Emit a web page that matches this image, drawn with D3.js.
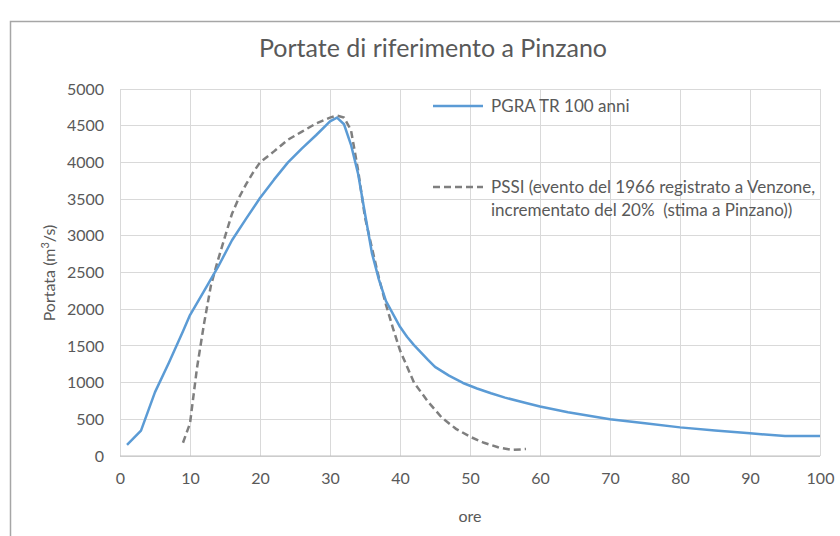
<!DOCTYPE html>
<html lang="it">
<head>
<meta charset="UTF-8">
<title>Portate di riferimento a Pinzano</title>
<script src="https://cdn.jsdelivr.net/npm/d3@7"></script>
<style>
    body { margin: 0; background: #fff; }
    text { font-family: Lato, "Open Sans", sans-serif; fill: #595959; }
    .grid line { stroke: #d9d9d9; stroke-width: 1; shape-rendering: crispEdges; }
    .axis path, .axis line { display: none; }
</style>
</head>
<body>
<div id="chart"></div>
<script>
    // ore / portata (m3/s)
    var pgraOre = [1, 3, 5, 7, 9, 10, 12, 14, 16, 18, 20, 22, 24, 26, 28, 30, 31, 32, 33, 34, 35, 36, 37, 38, 40, 41, 42, 44, 45, 47, 49, 51, 53, 55, 58, 60, 64, 70, 75, 80, 85, 90, 95, 100];
    var pgraQ   = [150, 345, 870, 1275, 1700, 1920, 2245, 2575, 2940, 3230, 3515, 3765, 4000, 4190, 4370, 4560, 4610, 4520, 4240, 3850, 3300, 2760, 2400, 2110, 1760, 1625, 1510, 1310, 1215, 1095, 995, 920, 855, 795, 722, 675, 595, 500, 445, 390, 348, 309, 272, 272];

    var pssiOre = [9, 10, 11, 12, 13, 14, 15, 16, 17, 18, 19, 20, 22, 24, 26, 28, 30, 31, 32, 33, 34, 35, 36, 37, 38, 39, 40, 42, 44, 46, 48, 50, 52, 54, 56, 58];
    var pssiQ   = [180, 445, 1200, 1800, 2330, 2670, 2990, 3300, 3520, 3700, 3860, 4000, 4150, 4310, 4420, 4530, 4610, 4637, 4610, 4440, 3900, 3250, 2830, 2420, 2060, 1740, 1440, 1000, 740, 520, 370, 263, 180, 120, 82, 95];

    var xTicks = [0, 10, 20, 30, 40, 50, 60, 70, 80, 90, 100];
    var yTicks = [0, 500, 1000, 1500, 2000, 2500, 3000, 3500, 4000, 4500, 5000];

    var titolo = "Portate di riferimento a Pinzano";
    var legenda1 = "PGRA TR 100 anni";
    var legenda2 = ["PSSI (evento del 1966 registrato a Venzone,", "incrementato del 20%  (stima a Pinzano))"];

    var width = 840, height = 536;
    var margin = {top: 89, right: 20, bottom: 80, left: 120};

    var svg = d3.select("#chart").append("svg")
        .attr("width", width)
        .attr("height", height);

    // cornice del grafico
    svg.append("rect")
        .attr("x", 10.5).attr("y", 21.5)
        .attr("width", 900).attr("height", 600)
        .attr("fill", "none")
        .attr("stroke", "#a6a6a6")
        .attr("stroke-width", 1.5);

    var x = d3.scaleLinear().domain([0, 100]).range([margin.left, width - margin.right]);
    var y = d3.scaleLinear().domain([0, 5000]).range([height - margin.bottom, margin.top]);

    // griglia
    var grid = svg.append("g").attr("class", "grid");
    grid.selectAll(".gy").data(yTicks).enter().append("line")
        .attr("x1", x(0)).attr("x2", x(100))
        .attr("y1", function(d) { return y(d); })
        .attr("y2", function(d) { return y(d); });
    grid.selectAll(".gx").data(xTicks).enter().append("line")
        .attr("y1", y(0)).attr("y2", y(5000))
        .attr("x1", function(d) { return x(d); })
        .attr("x2", function(d) { return x(d); });
    svg.append("line")
        .attr("x1", x(0)).attr("x2", x(100))
        .attr("y1", y(0)).attr("y2", y(0))
        .attr("stroke", "#bfbfbf").attr("stroke-width", 1.2);

    // assi
    svg.append("g")
        .attr("class", "axis")
        .attr("transform", "translate(0," + y(0) + ")")
        .call(d3.axisBottom(x).tickValues(xTicks).tickSize(0).tickPadding(17))
        .selectAll("text").style("font-size", "16px").attr("fill", "#595959");

    svg.append("g")
        .attr("class", "axis")
        .attr("transform", "translate(" + x(0) + ",0)")
        .call(d3.axisLeft(y).tickValues(yTicks).tickSize(0).tickPadding(16).tickFormat(d3.format("d")))
        .selectAll("text").style("font-size", "16px").attr("fill", "#595959");

    svg.selectAll(".axis").select(".domain").remove();

    // titoli
    svg.append("text")
        .attr("x", 433).attr("y", 57)
        .attr("text-anchor", "middle")
        .style("font-size", "25px")
        .text(titolo);

    svg.append("text")
        .attr("x", (x(0) + x(100)) / 2).attr("y", 522)
        .attr("text-anchor", "middle")
        .style("font-size", "16px")
        .text("ore");

    var yt = svg.append("text")
        .attr("transform", "translate(55,273) rotate(-90)")
        .attr("text-anchor", "middle")
        .style("font-size", "16px");
    yt.append("tspan").text("Portata (m");
    yt.append("tspan").attr("dy", -6).style("font-size", "11px").text("3");
    yt.append("tspan").attr("dy", 6).text("/s)");

    // serie
    var line = d3.line()
        .x(function(d) { return x(d[0]); })
        .y(function(d) { return y(d[1]); });

    svg.append("path")
        .datum(d3.zip(pssiOre, pssiQ))
        .attr("d", line)
        .attr("fill", "none")
        .attr("stroke", "#7f7f7f")
        .attr("stroke-width", 2.5)
        .attr("stroke-dasharray", "7,4");

    svg.append("path")
        .datum(d3.zip(pgraOre, pgraQ))
        .attr("d", line)
        .attr("fill", "none")
        .attr("stroke", "#5b9bd5")
        .attr("stroke-width", 2.5)
        .attr("stroke-linejoin", "round");

    // legenda
    svg.append("line")
        .attr("x1", 433).attr("x2", 483).attr("y1", 106).attr("y2", 106)
        .attr("stroke", "#5b9bd5").attr("stroke-width", 2.5);
    svg.append("text")
        .attr("x", 491).attr("y", 112)
        .style("font-size", "17px")
        .text(legenda1);

    svg.append("line")
        .attr("x1", 433).attr("x2", 483).attr("y1", 187).attr("y2", 187)
        .attr("stroke", "#7f7f7f").attr("stroke-width", 2.5)
        .attr("stroke-dasharray", "7,4");
    svg.selectAll(".leg2").data(legenda2).enter().append("text")
        .attr("x", 491)
        .attr("y", function(d, i) { return 193 + i * 23; })
        .style("font-size", "17px")
        .style("white-space", "pre")
        .text(function(d) { return d; });
</script>
</body>
</html>
